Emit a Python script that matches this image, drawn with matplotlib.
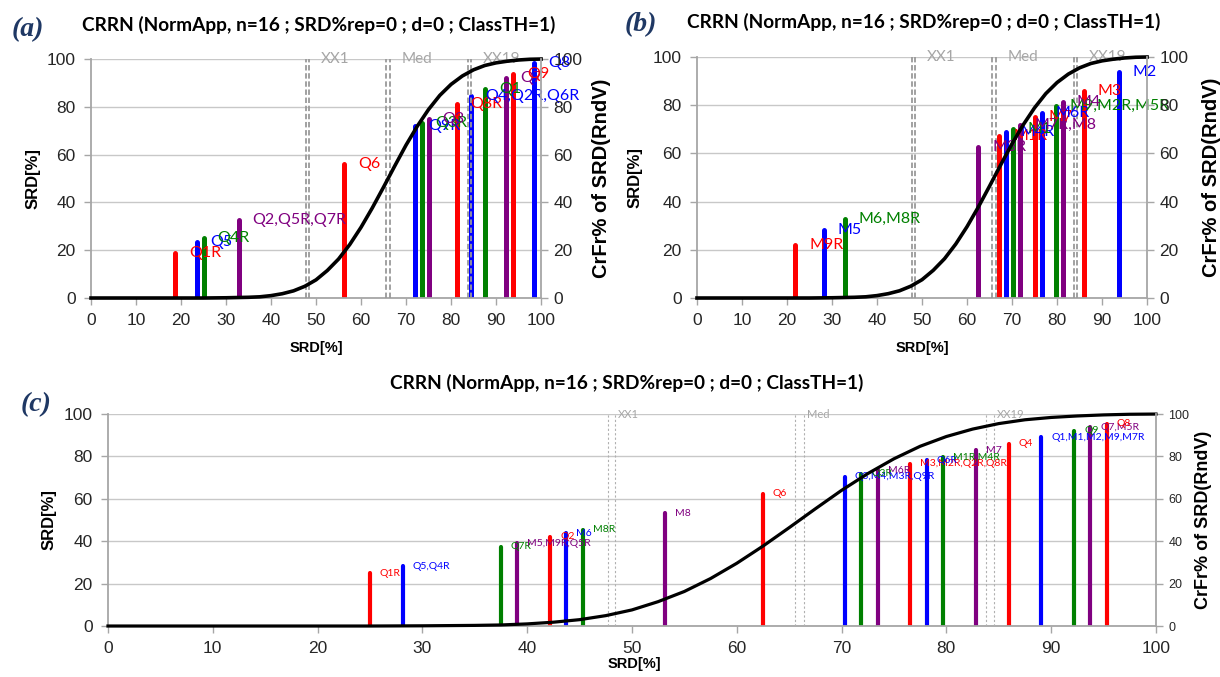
import matplotlib.pyplot as plt

plt.rcParams['font.family'] = ['Liberation Sans', 'DejaVu Sans']

# cumulative frequency of SRD for random vectors, normal approximation (n=16)
cum_x = [0, 5, 10, 15, 20, 25, 30, 32.5, 35, 37.5, 40, 42.5, 45, 47.5, 50, 52.5, 55,
         57.5, 60, 62.5, 65, 67.5, 70, 72.5, 75, 77.5, 80, 82.5, 85, 87.5, 90, 92.5,
         95, 97.5, 100]
cum_y = [0, 0, 0, 0, 0, 0, 0.1, 0.2, 0.3, 0.5, 1.0, 1.8, 3.0, 4.9, 7.6, 11.5, 16.3,
         22.4, 29.6, 37.7, 46.4, 55.3, 64.0, 71.9, 78.9, 84.8, 89.4, 92.9, 95.5, 97.3,
         98.4, 99.1, 99.6, 99.9, 100]

# SRD[%] of the ranked solutions with their data labels
srd_a = [18.75, 23.44, 25.0, 32.81, 56.25, 71.88, 73.44, 75.0, 81.25, 84.38, 87.5,
         92.19, 93.75, 98.44]
lab_a = ['Q1R', 'Q5', 'Q4R', 'Q2,Q5R,Q7R', 'Q6', 'Q9R', 'Q3R', 'Q3', 'Q8R',
         'Q4,Q2R,Q6R', 'Q1', 'Q7', 'Q9', 'Q8']

srd_b = [21.88, 28.13, 32.81, 62.5, 67.19, 68.75, 70.31, 71.88, 75.0, 76.56, 79.69,
         81.25, 85.94, 93.75]
lab_b = ['M9R', 'M5', 'M6,M8R', 'M3R', 'M1R', 'M4R', 'M1', 'M7R,M8', 'M7', 'M6R',
         'M9,M2R,M5R', 'M4', 'M3', 'M2']

srd_c = [25.0, 28.13, 37.5, 39.06, 42.19, 43.75, 45.31, 53.13, 62.5, 70.31, 71.88,
         73.44, 76.56, 78.13, 79.69, 82.81, 85.94, 89.06, 92.19, 93.75, 95.31]
lab_c = ['Q1R', 'Q5,Q4R', 'Q7R', 'M5,M9R,Q5R', 'Q2', 'M6', 'M8R', 'M8', 'Q6',
         'Q3,M4,M3R,Q9R', 'Q3R', 'M6R', 'M3,M2R,Q2R,Q8R', 'Q6R', 'M1R,M4R', 'M7', 'Q4',
         'Q1,M1,M2,M9,M7R', 'Q9', 'Q7,M5R', 'Q8']

# XX1 / Med / XX19 limits, each drawn as a pair of lines
mark_names = ['XX1', 'Med', 'XX19']
mark_lo = [47.7, 65.6, 83.8]
mark_hi = [48.4, 66.4, 84.5]

bar_colors = ['#FF0000', '#0000FF', '#008000', '#800080']
title = 'CRRN (NormApp, n=16 ; SRD%rep=0 ; d=0 ; ClassTH=1)'
grey = '#A6A6A6'


def draw(ax, srd, labels, big):
    bar_lw = 3.6 if big else 3.0
    lab_fs = 11.5 if big else 7.5
    lab_dx = 14 if big else 10
    cols = [bar_colors[i % 4] for i in range(len(srd))]

    ax.set_xlim(0, 100)
    ax.set_ylim(0, 100)
    ax.set_xticks(range(0, 101, 10))
    ax.set_yticks(range(0, 101, 20))
    ax.grid(axis='y', color='#C8C8C8', lw=1)
    ax.set_axisbelow(True)

    bars = ax.vlines(srd, 0, srd, colors=cols, lw=bar_lw, zorder=2)
    bars.set_capstyle('round')
    for x, lab, c in zip(srd, labels, cols):
        ax.annotate(lab, (x, x), xytext=(lab_dx, 0), textcoords='offset pixels',
                    va='center', ha='left', color=c, fontsize=lab_fs,
                    family='Lato', zorder=5)

    if big:
        ax.vlines(mark_lo + mark_hi, 0, 100, colors='#9A9A9A', lw=1.3,
                  linestyles=(0, (3, 1.5)), zorder=3)
        mk_fs, mk_dx = 11, 12
    else:
        ax.vlines(mark_lo + mark_hi, 0, 100, colors='#B0B0B0', lw=0.8,
                  linestyles=(0, (2, 2)), zorder=3)
        mk_fs, mk_dx = 8, 3
    for name, x in zip(mark_names, mark_hi):
        ax.annotate(name, (x, 100), xytext=(mk_dx, 0), textcoords='offset pixels',
                    va='center', ha='left', color=grey, fontsize=mk_fs, family='Lato')

    for s in ['top', 'right']:
        ax.spines[s].set_visible(False)
    for s in ['left', 'bottom']:
        ax.spines[s].set_color(grey)
        ax.spines[s].set_linewidth(1.3)
    ax.tick_params(length=5, width=1, color=grey, labelsize=12.5,
                   labelcolor='#262626', pad=6)

    ax2 = ax.twinx()
    ax2.set_ylim(0, 100)
    ax2.set_yticks(range(0, 101, 20))
    ax2.plot(cum_x, cum_y, color='black', lw=2.6 if big else 2.3, clip_on=False)
    for s in ['top', 'left', 'bottom']:
        ax2.spines[s].set_visible(False)
    ax2.spines['right'].set_color(grey)
    ax2.spines['right'].set_linewidth(1.3)
    ax2.tick_params(length=5, width=1, color=grey, labelsize=12.5 if big else 9,
                    labelcolor='#262626', pad=4)

    ax.set_xlabel('SRD[%]', fontsize=10.5, fontweight='bold')
    ax.set_ylabel('SRD[%]', fontsize=12, fontweight='bold')
    ax2.set_ylabel('CrFr% of SRD(RndV)', fontsize=14.5 if big else 13,
                   fontweight='bold')
    return ax2


fig = plt.figure(figsize=(12.2, 6.77), dpi=100)
ax_a = fig.add_axes([0.0746, 0.5598, 0.3689, 0.353])
ax_b = fig.add_axes([0.5713, 0.5598, 0.3689, 0.356])
ax_c = fig.add_axes([0.0885, 0.0753, 0.859, 0.3131])

r_a = draw(ax_a, srd_a, lab_a, True)
r_b = draw(ax_b, srd_b, lab_b, True)
r_c = draw(ax_c, srd_c, lab_c, False)

ax_a.yaxis.set_label_coords(-0.113, 0.5)
r_a.yaxis.set_label_coords(1.113, 0.5)
ax_a.xaxis.set_label_coords(0.5, -0.18)
ax_b.yaxis.set_label_coords(-0.12, 0.5)
r_b.yaxis.set_label_coords(1.122, 0.5)
ax_b.xaxis.set_label_coords(0.5, -0.18)
ax_c.yaxis.set_label_coords(-0.049, 0.5)
r_c.yaxis.set_label_coords(1.037, 0.5)
ax_c.xaxis.set_label_coords(0.502, -0.146)

for x, y in [(0.261, 0.963), (0.757, 0.9675), (0.514, 0.434)]:
    fig.text(x, y, title, ha='center', va='center', fontsize=13.7,
             fontweight='bold', family='Lato')
for (x, y), letter in zip([(0.023, 0.956), (0.525, 0.963), (0.0295, 0.402)],
                          ['(a)', '(b)', '(c)']):
    fig.text(x, y, letter, ha='center', va='center', fontsize=20,
             fontweight='bold', fontstyle='italic', family='Liberation Serif',
             color='#1F3864')

fig.savefig('out.png', dpi=100)
